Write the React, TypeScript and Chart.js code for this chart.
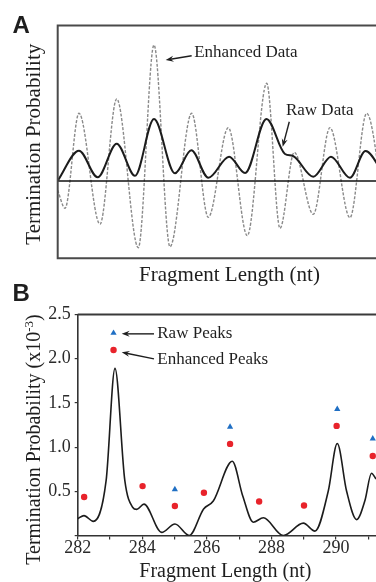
import React, { useEffect, useRef } from 'react';
import { Chart, registerables } from 'chart.js';

Chart.register(...registerables);

const SERIF = "'Liberation Serif', 'Times New Roman', Times, serif";
const SANS = "'Liberation Sans', Arial, Helvetica, sans-serif";
const INK = '#1e1e1e';

// ---------- Panel A (arbitrary units: x ~ fragment position, y ~ relative probability)
const rawX = [0, 0.571, 1.072, 1.582, 2.072, 2.582, 3.145, 3.582, 4.038, 4.595, 5.024, 5.598, 6.094, 6.309, 6.853, 7.327, 7.836, 8.252, 8.775];
const rawY = [0.005, 0.489, 0.06, 0.602, 0.085, 1.0, 0.124, 0.495, 0.053, 0.392, 0.129, 1.0, 0.435, 0.403, 0.069, 0.392, 0.053, 0.484, 0.065];
const enhX = [0, 0.196, 0.571, 1.134, 1.582, 2.161, 2.582, 3.011, 3.592, 4.038, 4.574, 5.083, 5.603, 5.96, 6.343, 6.853, 7.3, 7.836, 8.284, 8.775];
const enhY = [-0.15, -0.44, 1.092, -0.698, 1.323, -1.076, 2.194, -1.06, 1.092, -0.585, 0.86, -0.882, 1.576, -0.763, 0.463, -0.537, 0.86, -0.592, 1.092, -0.55];
const aXRange = [0, 8.534];
const aYRange = [-1.247, 2.508];
const aLabels = ['Enhanced Data', 'Raw Data'];
const aLabelPos = [[3.66, 2.065], [6.12, 1.129]];
const aArrows = [[3.592, 2.021, 2.895, 1.952], [6.209, 0.956, 6.032, 0.553]];

// ---------- Panel B
const curveX = [282.0, 282.195, 282.483, 282.88, 283.155, 283.46, 283.7, 283.83, 284.053, 284.6, 285.013, 285.456, 285.9, 286.2, 286.788, 287.11, 287.44, 287.75, 288.37, 288.99, 289.35, 289.76, 290.04, 290.33, 290.64, 290.9, 291.1, 291.24];
const curveY = [0.19, 0.225, 0.16, 0.62, 1.89, 0.62, 0.32, 0.295, 0.355, 0.035, 0.13, 0.0, 0.3, 0.39, 0.84, 0.45, 0.15, 0.2, 0.0, 0.14, 0.05, 0.5, 1.04, 0.5, 0.18, 0.4, 0.705, 0.64];
const enhPeakX = [282.2, 283.11, 284.01, 285.01, 285.91, 286.72, 287.62, 289.01, 290.02, 291.14];
const enhPeakY = [0.435, 2.098, 0.559, 0.333, 0.484, 1.036, 0.385, 0.34, 1.24, 0.9];
const rawPeakX = [283.11, 285.01, 286.72, 290.04, 291.14];
const rawPeakY = [2.29, 0.522, 1.228, 1.429, 1.096];
const xTickValues = [282, 283, 284, 285, 286, 287, 288, 289, 290, 291];
const xTickLabels = ['282', '', '284', '', '286', '', '288', '', '290', ''];
const yTickValues = [0, 0.5, 1, 1.5, 2, 2.5];
const yTickLabels = ['', '0.5', '1.0', '1.5', '2.0', '2.5'];
const bLabels = ['Raw Peaks', 'Enhanced Peaks'];
const bLabelPos = [[284.465, 2.281], [284.465, 1.99]];
const bArrows = [[284.363, 2.281, 283.363, 2.281], [284.363, 1.998, 283.363, 2.073]];

const toPts = (xs: number[], ys: number[]) => xs.map((x, i) => ({ x, y: ys[i] }));

function arrow(ctx: CanvasRenderingContext2D, x1: number, y1: number, x2: number, y2: number) {
  const head = 8;
  const half = 3;
  const a = Math.atan2(y2 - y1, x2 - x1);
  const c = Math.cos(a);
  const s = Math.sin(a);
  ctx.save();
  ctx.strokeStyle = INK;
  ctx.fillStyle = INK;
  ctx.lineWidth = 1.4;
  ctx.beginPath();
  ctx.moveTo(x1, y1);
  ctx.lineTo(x2 - c * head * 0.6, y2 - s * head * 0.6);
  ctx.stroke();
  ctx.beginPath();
  ctx.moveTo(x2, y2);
  ctx.lineTo(x2 - head * c + half * s, y2 - head * s - half * c);
  ctx.lineTo(x2 - head * 0.65 * c, y2 - head * 0.65 * s);
  ctx.lineTo(x2 - head * c - half * s, y2 - head * s + half * c);
  ctx.closePath();
  ctx.fill();
  ctx.restore();
}

function vText(ctx: CanvasRenderingContext2D, x: number, cy: number, parts: { text: string; font: string; dy: number }[]) {
  ctx.save();
  ctx.translate(x, cy);
  ctx.rotate(-Math.PI / 2);
  ctx.fillStyle = INK;
  ctx.textAlign = 'left';
  ctx.textBaseline = 'alphabetic';
  let total = 0;
  parts.forEach((p) => { ctx.font = p.font; total += ctx.measureText(p.text).width; });
  let cx = -total / 2;
  parts.forEach((p) => { ctx.font = p.font; ctx.fillText(p.text, cx, p.dy); cx += ctx.measureText(p.text).width; });
  ctx.restore();
}

const panelAPlugin = {
  id: 'panelA',
  afterDatasetsDraw(chart: any) {
    const { ctx, chartArea: ca, scales } = chart;
    const xs = scales.x;
    const ys = scales.y;
    ctx.save();
    const y0 = ys.getPixelForValue(0);
    ctx.strokeStyle = '#111';
    ctx.lineWidth = 1.6;
    ctx.beginPath();
    ctx.moveTo(ca.left, y0);
    ctx.lineTo(ca.right, y0);
    ctx.stroke();
    ctx.strokeStyle = '#4a4a4a';
    ctx.lineWidth = 2;
    ctx.beginPath();
    ctx.moveTo(ca.right + 2, ca.top);
    ctx.lineTo(ca.left, ca.top);
    ctx.lineTo(ca.left, ca.bottom);
    ctx.lineTo(ca.right + 2, ca.bottom);
    ctx.stroke();
    ctx.fillStyle = INK;
    ctx.font = `17px ${SERIF}`;
    ctx.textBaseline = 'middle';
    ctx.textAlign = 'left';
    aLabels.forEach((t, i) => {
      ctx.fillText(t, xs.getPixelForValue(aLabelPos[i][0]), ys.getPixelForValue(aLabelPos[i][1]));
    });
    aArrows.forEach((a) => {
      arrow(ctx, xs.getPixelForValue(a[0]), ys.getPixelForValue(a[1]), xs.getPixelForValue(a[2]), ys.getPixelForValue(a[3]));
    });
    ctx.textAlign = 'center';
    ctx.textBaseline = 'alphabetic';
    ctx.font = `21px ${SERIF}`;
    ctx.fillText('Fragment Length (nt)', 229.5, 280.5);
    vText(ctx, 39.5, 144.2, [{ text: 'Termination Probability', font: `21px ${SERIF}`, dy: 0 }]);
    ctx.textAlign = 'left';
    ctx.font = `bold 24px ${SANS}`;
    ctx.fillText('A', 12.5, 33.3);
    ctx.restore();
  },
};

const panelBPlugin = {
  id: 'panelB',
  afterDraw(chart: any) {
    const { ctx, chartArea: ca, scales } = chart;
    const xs = scales.x;
    const ys = scales.y;
    ctx.save();
    ctx.strokeStyle = '#3a3a3a';
    ctx.lineWidth = 1.8;
    ctx.beginPath();
    ctx.moveTo(ca.left, ca.top);
    ctx.lineTo(ca.right + 2, ca.top);
    ctx.stroke();
    ctx.fillStyle = INK;
    ctx.font = `17px ${SERIF}`;
    ctx.textBaseline = 'middle';
    ctx.textAlign = 'left';
    bLabels.forEach((t, i) => {
      ctx.fillText(t, xs.getPixelForValue(bLabelPos[i][0]), ys.getPixelForValue(bLabelPos[i][1]));
    });
    bArrows.forEach((a) => {
      arrow(ctx, xs.getPixelForValue(a[0]), ys.getPixelForValue(a[1]), xs.getPixelForValue(a[2]), ys.getPixelForValue(a[3]));
    });
    ctx.textAlign = 'center';
    ctx.textBaseline = 'alphabetic';
    ctx.font = `20px ${SERIF}`;
    ctx.fillText('Fragment Length (nt)', 225.4, 296);
    vText(ctx, 40, 158.5, [
      { text: 'Termination Probability (x10', font: `20px ${SERIF}`, dy: 0 },
      { text: '-3', font: `13px ${SERIF}`, dy: -7 },
      { text: ')', font: `20px ${SERIF}`, dy: 0 },
    ]);
    ctx.textAlign = 'left';
    ctx.font = `bold 24px ${SANS}`;
    ctx.fillText('B', 12.5, 19.7);
    ctx.restore();
  },
};

export default function App() {
  const refA = useRef<HTMLCanvasElement>(null);
  const refB = useRef<HTMLCanvasElement>(null);

  useEffect(() => {
    const chartA = new Chart(refA.current as HTMLCanvasElement, {
      type: 'line',
      data: {
        datasets: [
          {
            label: 'Raw Data',
            data: toPts(rawX, rawY),
            borderColor: '#1c1c1c',
            borderWidth: 2,
            pointRadius: 0,
            cubicInterpolationMode: 'monotone',
            fill: false,
            order: 0,
          },
          {
            label: 'Enhanced Data',
            data: toPts(enhX, enhY),
            borderColor: '#8a8a8a',
            borderWidth: 1.4,
            borderDash: [3, 1.6],
            pointRadius: 0,
            cubicInterpolationMode: 'monotone',
            fill: false,
            order: 1,
          },
        ],
      },
      options: {
        animation: false,
        responsive: false,
        maintainAspectRatio: false,
        events: [],
        layout: { autoPadding: false, padding: { left: 57.7, top: 25.5, right: 0, bottom: 33.7 } },
        plugins: { legend: { display: false }, tooltip: { enabled: false } },
        scales: {
          x: { type: 'linear', min: aXRange[0], max: aXRange[1], display: false },
          y: { type: 'linear', min: aYRange[0], max: aYRange[1], display: false },
        },
      },
      plugins: [panelAPlugin],
    } as any);

    const tickFont = { family: SERIF, size: 18 };
    const chartB = new Chart(refB.current as HTMLCanvasElement, {
      type: 'line',
      data: {
        datasets: [
          {
            label: 'Raw Peaks',
            data: toPts(rawPeakX, rawPeakY),
            showLine: false,
            pointStyle: 'triangle',
            pointRadius: 3.6,
            pointBackgroundColor: '#1f6fc4',
            pointBorderColor: '#1f6fc4',
            pointBorderWidth: 0,
            order: 0,
          },
          {
            label: 'Enhanced Peaks',
            data: toPts(enhPeakX, enhPeakY),
            showLine: false,
            pointStyle: 'circle',
            pointRadius: 3.2,
            pointBackgroundColor: '#e8232b',
            pointBorderColor: '#e8232b',
            pointBorderWidth: 0,
            order: 1,
          },
          {
            label: 'Termination Probability',
            data: toPts(curveX, curveY),
            borderColor: '#1c1c1c',
            borderWidth: 1.6,
            pointRadius: 0,
            cubicInterpolationMode: 'monotone',
            fill: false,
            order: 2,
          },
        ],
      },
      options: {
        animation: false,
        responsive: false,
        maintainAspectRatio: false,
        events: [],
        layout: { autoPadding: false, padding: { left: 0, top: 33.5, right: 0, bottom: 0 } },
        plugins: { legend: { display: false }, tooltip: { enabled: false } },
        scales: {
          x: {
            type: 'linear',
            min: 282,
            max: 291.24,
            afterBuildTicks: (s: any) => { s.ticks = xTickValues.map((v) => ({ value: v })); },
            afterFit: (s: any) => { s.height = 46.5; s.paddingLeft = 0; s.paddingRight = 0; },
            ticks: {
              autoSkip: false,
              maxRotation: 0,
              padding: -2,
              color: '#2a2a2a',
              font: tickFont,
              callback: (v: any) => xTickLabels[xTickValues.indexOf(Number(v))] ?? '',
            },
            grid: { display: true, drawOnChartArea: false, drawTicks: true, tickLength: 4, color: '#333', lineWidth: 1.2 },
            border: { display: true, color: '#333', width: 1.6 },
          },
          y: {
            type: 'linear',
            min: 0,
            max: 2.5,
            afterBuildTicks: (s: any) => { s.ticks = yTickValues.map((v) => ({ value: v })); },
            afterFit: (s: any) => { s.width = 77.7; s.paddingTop = 0; s.paddingBottom = 0; },
            ticks: {
              autoSkip: false,
              padding: 4,
              color: '#2a2a2a',
              font: tickFont,
              callback: (v: any) => yTickLabels[yTickValues.indexOf(Number(v))] ?? '',
            },
            grid: { display: true, drawOnChartArea: false, drawTicks: true, tickLength: 3, color: '#333', lineWidth: 1.2 },
            border: { display: true, color: '#333', width: 1.6 },
          },
        },
      },
      plugins: [panelBPlugin],
    } as any);

    return () => {
      chartA.destroy();
      chartB.destroy();
    };
  }, []);

  return (
    <div style={{ position: 'fixed', left: 0, top: 0, width: 376, height: 582, overflow: 'hidden', background: '#fff' }}>
      <canvas ref={refA} width={376} height={292} style={{ position: 'absolute', left: 0, top: 0, width: 376, height: 292 }} />
      <canvas ref={refB} width={376} height={301} style={{ position: 'absolute', left: 0, top: 281, width: 376, height: 301 }} />
    </div>
  );
}
